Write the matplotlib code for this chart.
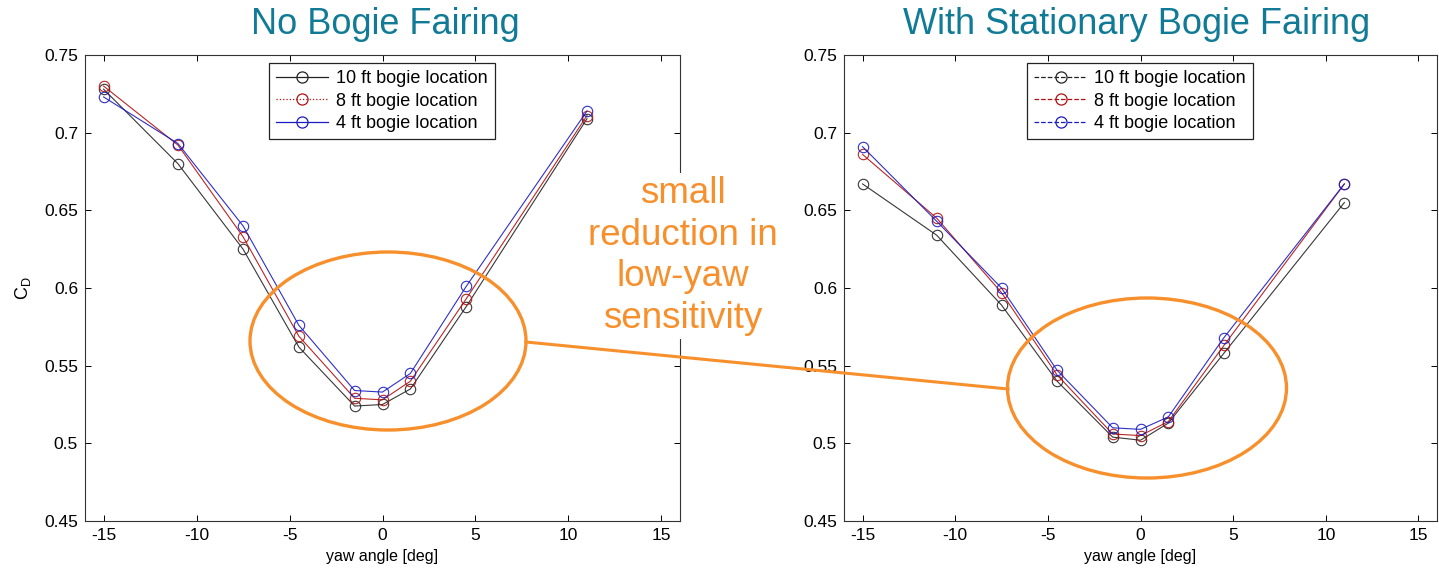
import matplotlib
matplotlib.use("Agg")
import matplotlib.pyplot as plt
from matplotlib.patches import Ellipse
from matplotlib.lines import Line2D

plt.rcParams['font.family'] = ['Liberation Sans', 'DejaVu Sans']
plt.rcParams['mathtext.fontset'] = 'custom'
plt.rcParams['mathtext.rm'] = 'Liberation Sans'
plt.rcParams['mathtext.it'] = 'Liberation Sans'
plt.rcParams['axes.unicode_minus'] = False

# ---- data ----
yaw = [-15, -11, -7.5, -4.5, -1.5, 0, 1.5, 4.5, 11]
labels = ["10 ft bogie location", "8 ft bogie location", "4 ft bogie location"]

no_fairing_10ft = [0.728, 0.680, 0.625, 0.562, 0.524, 0.525, 0.535, 0.588, 0.709]
no_fairing_8ft = [0.730, 0.692, 0.633, 0.569, 0.529, 0.528, 0.540, 0.593, 0.711]
no_fairing_4ft = [0.723, 0.693, 0.640, 0.576, 0.534, 0.533, 0.545, 0.601, 0.714]

fairing_10ft = [0.667, 0.634, 0.589, 0.540, 0.504, 0.502, 0.513, 0.558, 0.655]
fairing_8ft = [0.686, 0.645, 0.597, 0.544, 0.506, 0.505, 0.514, 0.563, 0.667]
fairing_4ft = [0.691, 0.643, 0.600, 0.547, 0.510, 0.509, 0.517, 0.568, 0.667]

titles = ["No Bogie Fairing", "With Stationary Bogie Fairing"]
xticks = [-15, -10, -5, 0, 5, 10, 15]
yticks = [0.45, 0.5, 0.55, 0.6, 0.65, 0.7, 0.75]
ytick_labels = ["0.45", "0.5", "0.55", "0.6", "0.65", "0.7", "0.75"]

colors = ["#222222", "#b01010", "#1a1ac0"]
W, H = 1439, 573

fig = plt.figure(figsize=(W / 100, H / 100), dpi=100)

def px_rect(x0, y0, x1, y1):
    return [x0 / W, 1 - y1 / H, (x1 - x0) / W, (y1 - y0) / H]

ax1 = fig.add_axes(px_rect(85, 55, 680, 521))
ax2 = fig.add_axes(px_rect(844, 55, 1437, 521))

series_sets = [
    (ax1, [no_fairing_10ft, no_fairing_8ft, no_fairing_4ft], ['-', ':', '-']),
    (ax2, [fairing_10ft, fairing_8ft, fairing_4ft], ['--', '--', '--']),
]

for ax, series, lstyles in series_sets:
    for vals, c in zip(series, colors):
        ax.plot(yaw, vals, color=c, lw=0.8, marker='o', ms=7.5,
                mfc='none', mec=c, mew=0.8, alpha=0.9)
    ax.set_xlim(-16, 16)
    ax.set_ylim(0.45, 0.75)
    ax.set_xticks(xticks)
    ax.set_yticks(yticks)
    ax.set_yticklabels(ytick_labels)
    ax.tick_params(direction='in', top=True, right=True, length=4,
                   width=0.7, labelsize=12.5, pad=5)
    for s in ax.spines.values():
        s.set_linewidth(0.8)
        s.set_color('#333333')
    ax.set_xlabel("yaw angle [deg]", fontsize=11.5, labelpad=4)
    handles = [Line2D([0], [0], color=c, lw=0.9, ls=ls, marker='o', ms=8,
                      mfc='none', mec=c, mew=0.9)
               for c, ls in zip(colors, lstyles)]
    leg = ax.legend(handles, labels, loc='upper left',
                    bbox_to_anchor=(0.309, 0.983), borderaxespad=0,
                    fontsize=13, handlelength=2.9, labelspacing=0.3,
                    handletextpad=0.4, borderpad=0.4, fancybox=False,
                    framealpha=1, edgecolor='#222222')
    leg.get_frame().set_linewidth(0.9)

ax1.set_ylabel(r"C$_\mathregular{D}$", fontsize=13, labelpad=8)

# titles
title_color = "#117b97"
fig.text(385 / W, 1 - 25 / H, titles[0], fontsize=26, color=title_color,
         ha='center', va='center')
fig.text(1137 / W, 1 - 25 / H, titles[1], fontsize=26, color=title_color,
         ha='center', va='center')

# orange annotation overlay
orange = "#f7902c"
fig.patches.append(Ellipse((388 / W, 1 - 341 / H), 276 / W, 178 / H,
                           transform=fig.transFigure, fill=False,
                           ec=orange, lw=2.4, zorder=10))
fig.patches.append(Ellipse((1147 / W, 1 - 388 / H), 279 / W, 180 / H,
                           transform=fig.transFigure, fill=False,
                           ec=orange, lw=2.4, zorder=10))
fig.lines.append(Line2D([526 / W, 1008 / W], [1 - 342 / H, 1 - 389 / H],
                        transform=fig.transFigure, color=orange, lw=2.2,
                        zorder=10))
fig.text(683 / W, 1 - 256 / H, "small\nreduction in\nlow-yaw\nsensitivity",
         fontsize=26.5, color=orange, ha='center', va='center',
         linespacing=1.25, zorder=9,
         bbox=dict(facecolor='white', edgecolor='none', pad=2))

fig.savefig("out.png", dpi=100)
